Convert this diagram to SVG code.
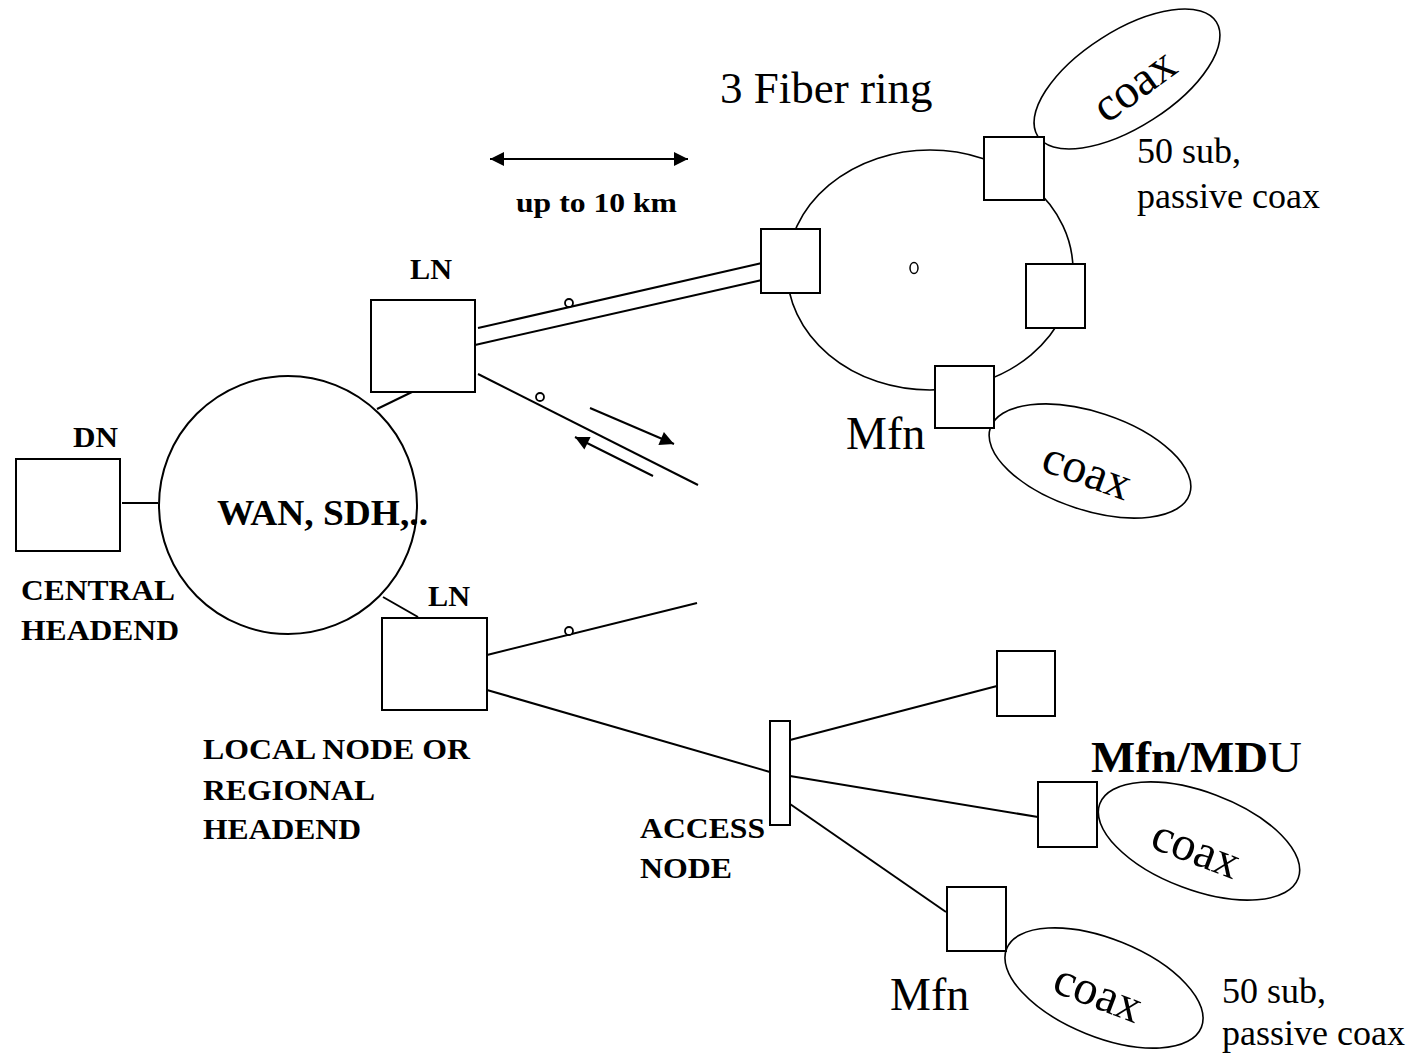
<svg xmlns="http://www.w3.org/2000/svg" width="1420" height="1058" viewBox="0 0 1420 1058">
<defs>
<style>
.box{fill:#fff;stroke:#000;stroke-width:2}
.ln{fill:none;stroke:#000;stroke-width:2}
.ell{fill:#fff;stroke:#000;stroke-width:1.6}
.dot{fill:#fff;stroke:#000;stroke-width:1.8}
.b{font-family:"Liberation Serif","Times New Roman",serif;font-weight:bold;font-size:30px;fill:#000}
.r{font-family:"Liberation Serif","Times New Roman",serif;font-size:45px;fill:#000}
.s{font-family:"Liberation Serif","Times New Roman",serif;font-size:36px;fill:#000}
.cx{font-family:"Liberation Serif","Times New Roman",serif;font-size:48px;fill:#000;text-anchor:middle}
</style>
<marker id="ah" viewBox="0 0 10 10" refX="10" refY="5" markerWidth="17" markerHeight="14" markerUnits="userSpaceOnUse" orient="auto-start-reverse">
<path d="M0,0 L10,5 L0,10 Z" fill="#000"/>
</marker>
</defs>
<rect width="1420" height="1058" fill="#fff"/>

<g id="connectors">
<line class="ln" x1="122" y1="503" x2="158" y2="503"/>
<line class="ln" x1="377" y1="409" x2="412" y2="392"/>
<line class="ln" x1="383" y1="597" x2="418" y2="617"/>
<line class="ln" x1="478" y1="328" x2="762" y2="263"/>
<line class="ln" x1="475" y1="345" x2="762" y2="280"/>
<line class="ln" x1="478" y1="374" x2="698" y2="485"/>
<line class="ln" x1="487" y1="655" x2="697" y2="603"/>
<line class="ln" x1="487" y1="690" x2="770" y2="772"/>
<line class="ln" x1="790" y1="740" x2="997" y2="686"/>
<line class="ln" x1="790" y1="776" x2="1038" y2="817"/>
<line class="ln" x1="790" y1="804" x2="946" y2="912"/>
<line class="ln" x1="590" y1="408" x2="674" y2="444" marker-end="url(#ah)"/>
<line class="ln" x1="653" y1="476" x2="575" y2="437" marker-end="url(#ah)"/>
<line class="ln" x1="490" y1="159" x2="688" y2="159" marker-start="url(#ah)" marker-end="url(#ah)"/>
<circle class="dot" cx="569" cy="303" r="4"/>
<circle class="dot" cx="540" cy="397" r="4"/>
<circle class="dot" cx="569" cy="631" r="4"/>
</g>

<g id="wan">
<circle class="ln" cx="288" cy="505" r="129"/>
<text class="b" x="217" y="525" style="font-size:35px" textLength="211" lengthAdjust="spacingAndGlyphs">WAN, SDH,..</text>
</g>

<g id="dn">
<rect class="box" x="16" y="459" width="104" height="92"/>
<text class="b" x="73" y="447" textLength="45" lengthAdjust="spacingAndGlyphs">DN</text>
<text class="b" x="21" y="600" textLength="154" lengthAdjust="spacingAndGlyphs">CENTRAL</text>
<text class="b" x="21" y="640" textLength="158" lengthAdjust="spacingAndGlyphs">HEADEND</text>
</g>

<g id="ln1">
<rect class="box" x="371" y="300" width="104" height="92"/>
<text class="b" x="410" y="279" textLength="42" lengthAdjust="spacingAndGlyphs">LN</text>
</g>

<g id="ln2">
<rect class="box" x="382" y="618" width="105" height="92"/>
<text class="b" x="428" y="606" textLength="42" lengthAdjust="spacingAndGlyphs">LN</text>
<text class="b" x="203" y="759" textLength="267" lengthAdjust="spacingAndGlyphs">LOCAL NODE OR</text>
<text class="b" x="203" y="800" textLength="172" lengthAdjust="spacingAndGlyphs">REGIONAL</text>
<text class="b" x="203" y="839" textLength="158" lengthAdjust="spacingAndGlyphs">HEADEND</text>
</g>

<g id="distance">
<text class="b" x="516" y="212" style="font-size:28px" textLength="161" lengthAdjust="spacingAndGlyphs">up to 10 km</text>
</g>

<g id="ring">
<text class="r" x="720" y="103">3 Fiber ring</text>
<ellipse cx="930" cy="270" rx="143" ry="120" fill="none" stroke="#000" stroke-width="1.6"/>
<ellipse cx="914" cy="268" rx="4" ry="5.5" fill="none" stroke="#000" stroke-width="1.5"/>
</g>

<g id="ring-node-left">
<rect class="box" x="761" y="229" width="59" height="64"/>
</g>

<g id="ring-node-top">
<ellipse class="ell" cx="1127" cy="79" rx="106" ry="48" transform="rotate(-32.6 1127 79)"/>
<rect class="box" x="984" y="137" width="60" height="63"/>
<text class="cx" transform="translate(1136 88) rotate(-36)" x="0" y="12">coax</text>
<text class="s" x="1137" y="163">50 sub,</text>
<text class="s" x="1137" y="208">passive coax</text>
</g>

<g id="ring-node-right">
<rect class="box" x="1026" y="264" width="59" height="64"/>
</g>

<g id="ring-node-mfn">
<ellipse class="ell" cx="1090" cy="461" rx="105" ry="49" transform="rotate(18.3 1090 461)"/>
<rect class="box" x="935" y="366" width="59" height="62"/>
<text class="r" x="846" y="449" style="font-size:46px">Mfn</text>
<text class="cx" transform="translate(1086 474) rotate(20)" x="0" y="12">coax</text>
</g>

<g id="access-node">
<rect class="box" x="770" y="721" width="20" height="104"/>
<text class="b" x="640" y="838" textLength="125" lengthAdjust="spacingAndGlyphs">ACCESS</text>
<text class="b" x="640" y="878" textLength="92" lengthAdjust="spacingAndGlyphs">NODE</text>
</g>

<g id="access-node-top">
<rect class="box" x="997" y="651" width="58" height="65"/>
</g>

<g id="mdu">
<ellipse class="ell" cx="1199" cy="841" rx="106" ry="49" transform="rotate(20.6 1199 841)"/>
<rect class="box" x="1038" y="782" width="59" height="65"/>
<text x="1091" y="772" style="font-family:'Liberation Serif','Times New Roman',serif;font-size:44px;fill:#000" textLength="211" lengthAdjust="spacingAndGlyphs"><tspan font-weight="bold">Mfn/MD</tspan>U</text>
<text class="cx" transform="translate(1195 852) rotate(21)" x="0" y="12">coax</text>
</g>

<g id="mfn-bottom">
<ellipse class="ell" cx="1104" cy="988" rx="105" ry="49" transform="rotate(22 1104 988)"/>
<rect class="box" x="947" y="887" width="59" height="64"/>
<text class="r" x="890" y="1010" style="font-size:46px">Mfn</text>
<text class="cx" transform="translate(1097 996) rotate(21)" x="0" y="12">coax</text>
<text class="s" x="1222" y="1003">50 sub,</text>
<text class="s" x="1222" y="1045">passive coax</text>
</g>
</svg>
